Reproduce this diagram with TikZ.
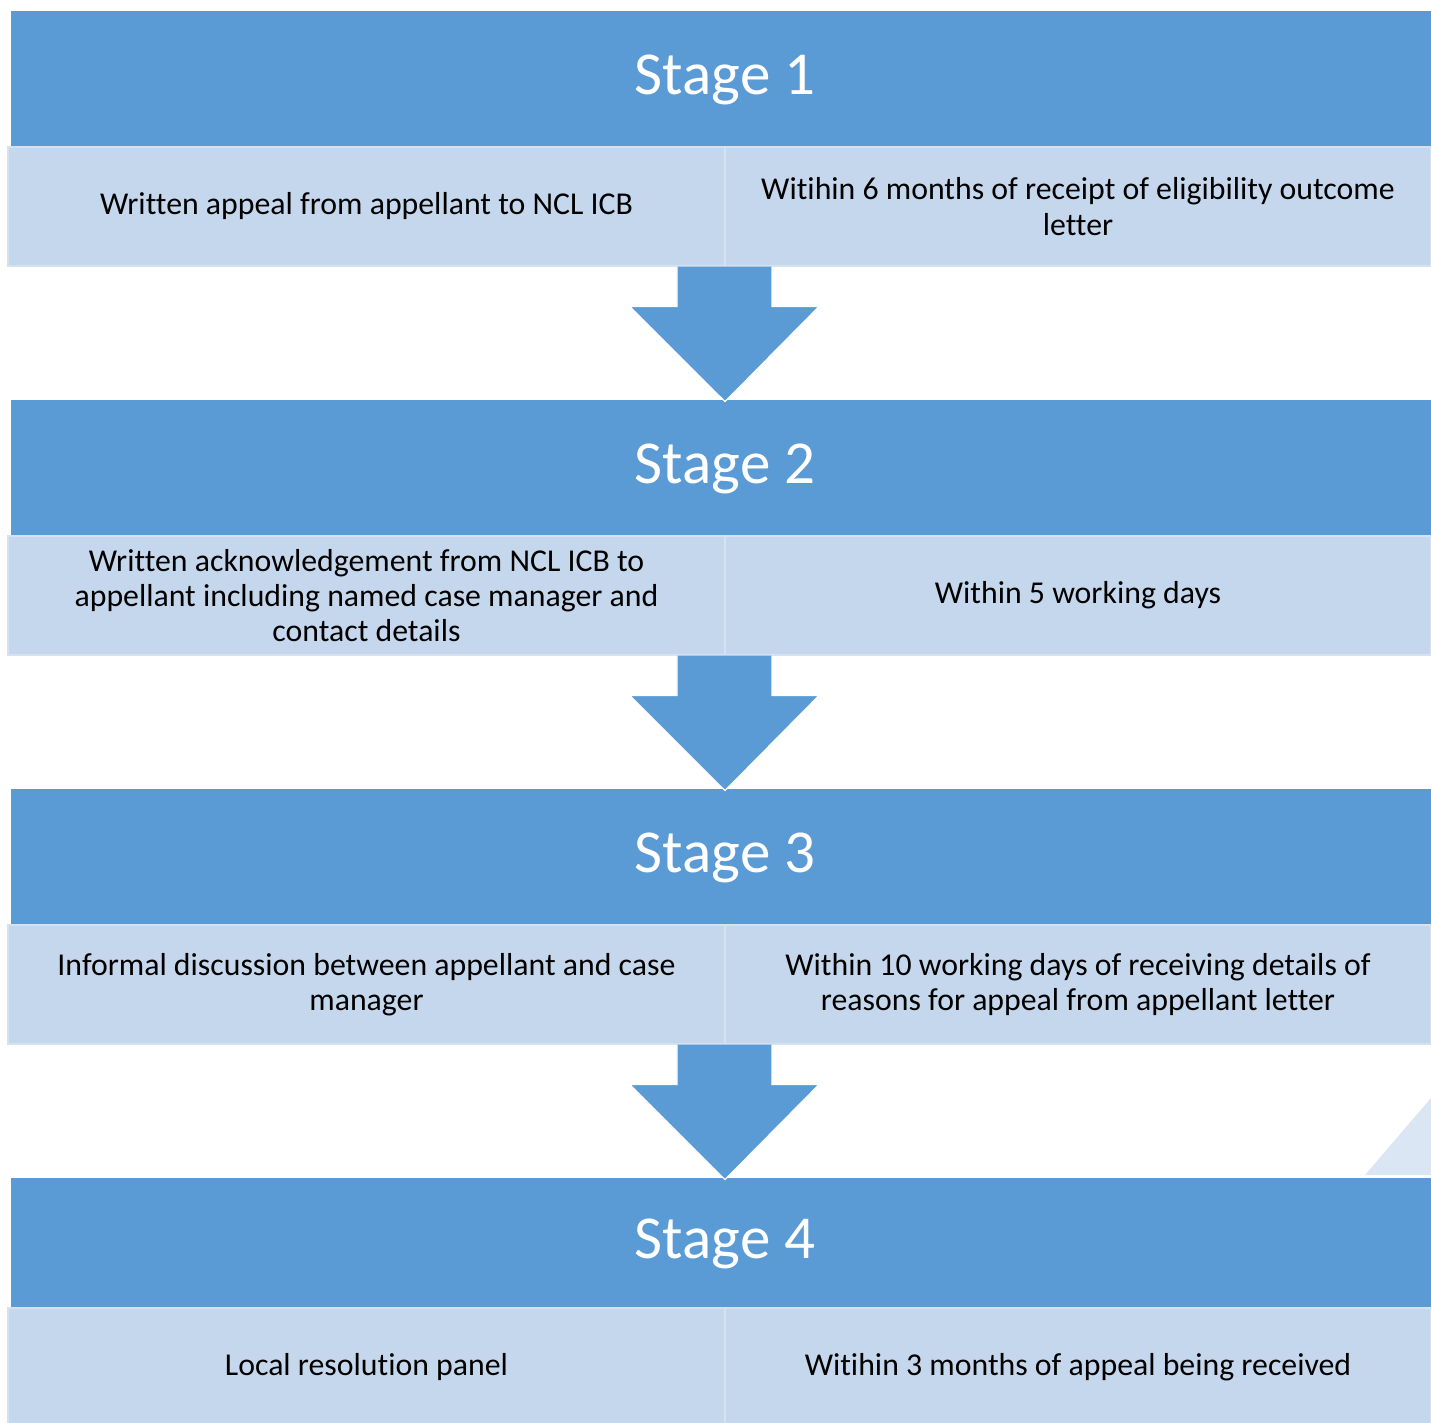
\documentclass[tikz,border=0pt]{standalone}
\usepackage{fontspec}
\setmainfont[Ligatures=NoCommon]{Carlito}
\usetikzlibrary{calc}

\definecolor{stageBlue}{HTML}{5B9BD5}
\definecolor{cellBlue}{HTML}{C5D7EC}
\definecolor{cellEdge}{HTML}{D6E2F0}
\definecolor{paleBlue}{HTML}{DAE6F3}

\begin{document}
\begin{tikzpicture}[
    x=0.5pt, y=-0.5pt,
    % Define the style for the dark stage headers
    stageBox/.style={
        rectangle,
        fill=stageBlue,
        draw=none,
        inner sep=0pt,
        minimum width=710pt,
        text=white,
        font=\fontsize{30.5}{36}\selectfont
    },
    % Define the style for the pale text cells
    cellBox/.style={
        rectangle,
        fill=cellBlue,
        draw=cellEdge,
        line width=0.6pt,
        inner sep=0pt,
        minimum height=59.5pt,
        align=center,
        font=\fontsize{15.9}{17.6}\selectfont
    },
    % Define the style for the block arrows between stages
    flowArrow/.style={
        fill=stageBlue,
        draw=white,
        line width=0.6pt,
        line join=miter
    }
]

    % --- CANVAS ---
    \useasboundingbox (0,0) rectangle (1431,1423);
    \clip (0,0) rectangle (1431,1423);

    % Stage pitch
    \def\pitch{389}

    % --- NODES ---
    % Header, left cell and right cell of each stage (\hh = header height)
    \foreach \k/\hh/\lt/\rt in {
        1/135/{Written appeal from appellant to NCL ICB}/{Witihin 6 months of receipt of eligibility outcome\\letter},
        2/135/{Written acknowledgement from NCL ICB to\\appellant including named case manager and\\contact details}/{Within 5 working days},
        3/135/{Informal discussion between appellant and case\\manager}/{Within 10 working days of receiving details of\\reasons for appeal from appellant letter},
        4/129/{Local resolution panel}/{Witihin 3 months of appeal being received}} {
        \node[stageBox, minimum height=\hh*0.5pt] (H\k) at (721, {11+\pitch*(\k-1)+\hh/2}) {};
        \node[text=white, font=\fontsize{30.5}{36}\selectfont] (T\k) at ($(H\k.center)+(4,1)$) {Stage \k};
        \node[cellBox, minimum width=358.5pt] (L\k) at (366.5, {11+\pitch*(\k-1)+\hh+60.5}) {\lt};
        \node[cellBox, minimum width=353pt] (R\k) at (1078, {11+\pitch*(\k-1)+\hh+60.5}) {\rt};
    }

    % Faint corner wedge above Stage 4
    \fill[paleBlue] (1365,1175) -- (1431,1098) -- (1431,1175) -- cycle;

    % --- EDGES ---
    % Block arrows from each stage down to the next
    \foreach \k/\n in {1/2, 2/3, 3/4} {
        \path[flowArrow]
            ($(R\k.south west)+(-47.5,0)$) -- ($(R\k.south west)+(-47.5,40)$)
            -- ($(R\k.south west)+(-94.5,40)$) -- ($(H\n.north)+(4,2)$)
            -- ($(R\k.south west)+(94.5,40)$) -- ($(R\k.south west)+(47.5,40)$)
            -- ($(R\k.south west)+(47.5,0)$);
    }

\end{tikzpicture}
\end{document}
